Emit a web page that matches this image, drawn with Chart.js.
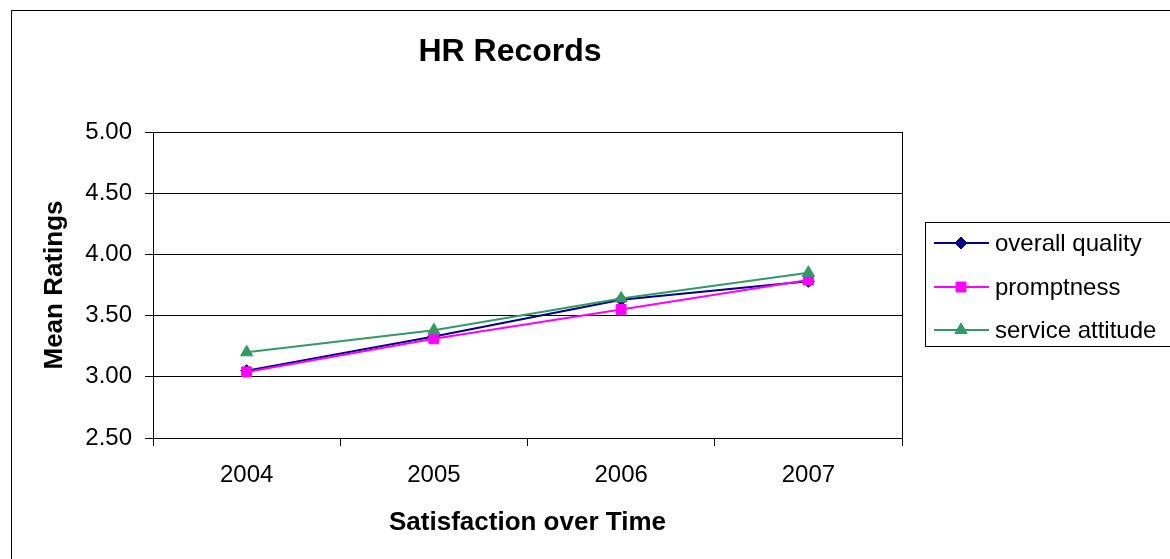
<!DOCTYPE html>
<html>
<head>
<meta charset="utf-8">
<title>HR Records</title>
<script src="https://cdn.jsdelivr.net/npm/chart.js@4.4.0/dist/chart.umd.min.js"></script>
<style>
  html, body { margin: 0; padding: 0; background: #fff; }
  canvas { display: block; }
</style>
</head>
<body>
<canvas id="hrChart" width="1170" height="559"></canvas>
<script>
// chart data
const years = ['2004', '2005', '2006', '2007'];
const overallQuality = [3.05, 3.33, 3.63, 3.78];
const promptness = [3.04, 3.31, 3.55, 3.79];
const serviceAttitude = [3.20, 3.38, 3.64, 3.85];
const yTicks = [2.5, 3.0, 3.5, 4.0, 4.5, 5.0];

const FONT = '"Liberation Sans", Arial, sans-serif';

// outer frame, plot frame, title and a boxed legend like the excel original
const excelLook = {
    id: 'excelLook',
    beforeDraw(chart) {
        const ctx = chart.ctx;
        ctx.save();
        ctx.fillStyle = '#fff';
        ctx.fillRect(0, 0, chart.width, chart.height);
        ctx.strokeStyle = '#000';
        ctx.lineWidth = 1;
        ctx.strokeRect(11.5, 10.5, 1400, 800);
        ctx.restore();
    },
    beforeDatasetsDraw(chart) {
        const { ctx, chartArea } = chart;
        ctx.save();
        ctx.strokeStyle = '#000';
        ctx.lineWidth = 1;
        ctx.beginPath();
        ctx.moveTo(Math.round(chartArea.right) + 0.5, chartArea.top);
        ctx.lineTo(Math.round(chartArea.right) + 0.5, chartArea.bottom);
        ctx.stroke();
        ctx.restore();
    },
    afterDraw(chart) {
        const ctx = chart.ctx;
        ctx.save();
        // title
        ctx.fillStyle = '#000';
        ctx.font = 'bold 32px ' + FONT;
        ctx.textAlign = 'center';
        ctx.textBaseline = 'middle';
        ctx.fillText('HR Records', 510, 52);

        // legend
        ctx.strokeStyle = '#000';
        ctx.lineWidth = 1;
        ctx.strokeRect(925.5, 222.5, 400, 124);
        const rows = [243, 287, 330];
        chart.data.datasets.forEach((ds, i) => {
            const y = rows[i];
            ctx.strokeStyle = ds.borderColor;
            ctx.lineWidth = 2;
            ctx.beginPath();
            ctx.moveTo(934, y);
            ctx.lineTo(989, y);
            ctx.stroke();
            ctx.fillStyle = ds.borderColor;
            ctx.lineWidth = 1;
            Chart.helpers.drawPoint(ctx, {
                pointStyle: ds.pointStyle,
                radius: ds.pointRadius,
                borderWidth: 1,
                rotation: 0
            }, 961, y);
            ctx.fillStyle = '#000';
            ctx.font = '24px ' + FONT;
            ctx.textAlign = 'left';
            ctx.textBaseline = 'middle';
            ctx.fillText(ds.label, 995, y + 1);
        });
        ctx.restore();
    }
};

function series(label, data, color, style, radius, order) {
    return {
        label: label,
        data: data,
        order: order,
        borderColor: color,
        backgroundColor: color,
        pointBackgroundColor: color,
        pointBorderColor: color,
        borderWidth: 2,
        pointBorderWidth: 1,
        pointStyle: style,
        pointRadius: radius,
        pointHoverRadius: radius,
        tension: 0,
        fill: false
    };
}

new Chart(document.getElementById('hrChart'), {
    type: 'line',
    data: {
        labels: years,
        datasets: [
            series('overall quality', overallQuality, '#000080', 'rectRot', 6, 3),
            series('promptness', promptness, '#FF00FF', 'rect', 7, 2),
            series('service attitude', serviceAttitude, '#339966', 'triangle', 7, 1)
        ]
    },
    options: {
        responsive: false,
        animation: false,
        layout: { padding: { left: 0, top: 132, right: 268, bottom: 0 } },
        plugins: {
            legend: { display: false },
            title: { display: false },
            tooltip: { enabled: false }
        },
        scales: {
            x: {
                offset: true,
                afterFit: (s) => { s.height = 121; },
                grid: {
                    offset: true,
                    drawOnChartArea: false,
                    drawTicks: true,
                    tickLength: 8,
                    color: '#000'
                },
                border: { color: '#000', width: 1 },
                ticks: {
                    color: '#000',
                    padding: 15,
                    font: { family: FONT, size: 24 }
                },
                title: {
                    display: true,
                    text: 'Satisfaction over Time',
                    color: '#000',
                    font: { family: FONT, size: 26, weight: 'bold' },
                    padding: { top: 0, bottom: 21 }
                }
            },
            y: {
                min: 2.5,
                max: 5,
                afterFit: (s) => { s.width = 153; },
                afterBuildTicks: (s) => { s.ticks = yTicks.map(v => ({ value: v })); },
                grid: {
                    color: '#000',
                    drawTicks: true,
                    tickLength: 8
                },
                border: { color: '#000', width: 1 },
                ticks: {
                    color: '#000',
                    padding: 13,
                    font: { family: FONT, size: 24 },
                    callback: (v) => Number(v).toFixed(2)
                },
                title: {
                    display: true,
                    text: 'Mean Ratings',
                    color: '#000',
                    font: { family: FONT, size: 26, weight: 'bold' },
                    padding: { top: 39, bottom: 0 }
                }
            }
        }
    },
    plugins: [excelLook]
});
</script>
</body>
</html>
